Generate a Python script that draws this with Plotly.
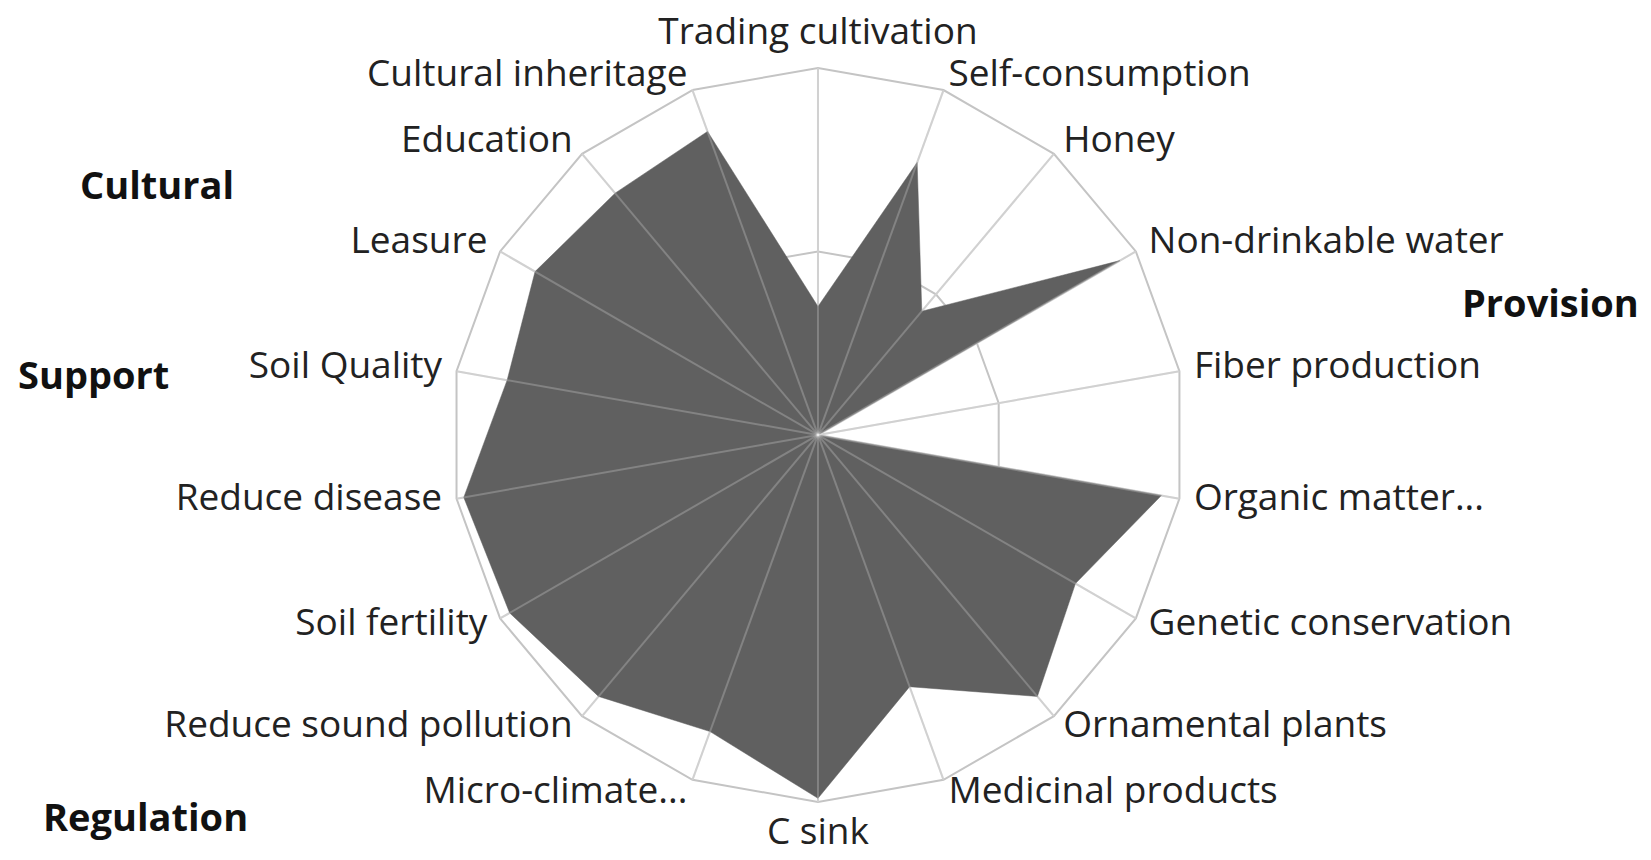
import plotly.graph_objects as go

# ecosystem services, clockwise from the top
categories = [
    "Trading cultivation", "Self-consumption", "Honey", "Non-drinkable water",
    "Fiber production", "Organic matter...", "Genetic conservation",
    "Ornamental plants", "Medicinal products", "C sink", "Micro-climate...",
    "Reduce sound pollution", "Soil fertility", "Reduce disease",
    "Soil Quality", "Leasure", "Education", "Cultural inheritage",
]
values = [35, 79, 44, 95, 0, 95, 81, 93, 73, 99, 86, 93, 97, 98, 86, 89, 86, 88]

groups = ["Cultural", "Support", "Provision", "Regulation"]
group_x = [0.0902, 0.0515, 0.934, 0.083]
group_y = [0.7953, 0.5744, 0.6581, 0.0605]

n = len(categories)
fig = go.Figure()

# spokes: grey under the fill, lighter over it
spoke_r, spoke_t = [], []
for c in categories:
    spoke_r += [0, 100, None]
    spoke_t += [c, c, None]
fig.add_trace(go.Scatterpolar(
    r=spoke_r, theta=spoke_t, mode="lines",
    line=dict(color="#c4c4c4", width=2), hoverinfo="skip",
))

fig.add_trace(go.Scatterpolar(
    r=values + [values[0]],
    theta=categories + [categories[0]],
    mode="lines",
    fill="toself",
    fillcolor="#606060",
    line=dict(color="#606060", width=0.5),
    hoverinfo="skip",
))

fig.add_trace(go.Scatterpolar(
    r=spoke_r, theta=spoke_t, mode="lines",
    line=dict(color="rgba(255,255,255,0.22)", width=2), hoverinfo="skip",
))

# category labels just outside the outer ring
positions = []
for i in range(n):
    if i == 0:
        positions.append("top center")
    elif i == n // 2:
        positions.append("bottom center")
    elif i < n // 2:
        positions.append("middle right")
    else:
        positions.append("middle left")
fig.add_trace(go.Scatterpolar(
    r=[104] * n, theta=categories, mode="text", text=categories,
    textposition=positions, cliponaxis=False,
    textfont=dict(family="Open Sans", size=37, color="#222222"),
    hoverinfo="skip",
))

for g, x, y in zip(groups, group_x, group_y):
    fig.add_annotation(text="<b>" + g + "</b>", x=x, y=y, xref="paper", yref="paper",
                       xanchor="center", yanchor="middle",
                       showarrow=False, font=dict(size=38, color="#111111"))

fig.update_layout(
    width=1651, height=860,
    margin=dict(l=0, r=0, t=0, b=0),
    paper_bgcolor="white",
    showlegend=False,
    font=dict(family="Open Sans", color="#222222"),
    polar=dict(
        domain=dict(x=[0.2594, 0.7218], y=[0.0597, 0.9474]),
        bgcolor="white",
        gridshape="linear",
        radialaxis=dict(range=[0, 104], tickvals=[50, 100], showticklabels=False,
                        showline=False, ticks="", gridcolor="#c4c4c4", gridwidth=2),
        angularaxis=dict(rotation=90, direction="clockwise", showline=False,
                         showgrid=False, ticks="", showticklabels=False),
    ),
)

fig.write_html("out.html")
